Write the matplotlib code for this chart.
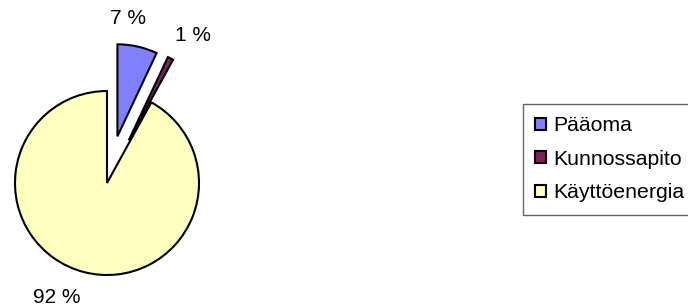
import numpy as np
import matplotlib
matplotlib.use("Agg")
import matplotlib.pyplot as plt
from matplotlib.patches import Patch

categories = ["Pääoma", "Kunnossapito", "Käyttöenergia"]
values = [7, 1, 92]
pct_labels = ["7 %", "1 %", "92 %"]

colors = ["#8080FF", "#802060", "#FFFFC0"]
R = 92
explode_frac = [0.52, 0.52, 0.0]
label_offsets_px = [(-12, 19), (18, 15), (-25, -16)]

plt.rcParams['font.family'] = ['Liberation Sans', 'DejaVu Sans']

W, H = 688, 307
fig = plt.figure(figsize=(W / 100, H / 100), dpi=100)
ax = fig.add_axes([0, 0, 1, 1])

center = (107, H - 183)
wedges, _ = ax.pie(values, colors=colors, explode=[e * R for e in explode_frac],
                   startangle=90, counterclock=False, radius=R, center=center,
                   frame=True, wedgeprops=dict(edgecolor='black', linewidth=1.5))
ax.set_xlim(0, W)
ax.set_ylim(0, H)
ax.set_aspect('equal')
ax.axis('off')

for w, lab, (dx, dy) in zip(wedges, pct_labels, label_offsets_px):
    th = np.deg2rad((w.theta1 + w.theta2) / 2)
    cx, cy = w.center
    anchor = (cx + 1.1 * R * np.cos(th), cy + 1.1 * R * np.sin(th))
    ax.annotate(lab, xy=anchor, xytext=(dx, dy), textcoords='offset pixels',
                ha='center', va='center', fontsize=15, color='black')

handles = [Patch(facecolor=c, edgecolor='black', linewidth=1.5) for c in colors]
leg = fig.legend(handles, categories, loc='upper left',
                 bbox_to_anchor=(523 / W, 1 - 104 / H), fontsize=15.3,
                 frameon=True, fancybox=False, shadow=False,
                 handlelength=0.5, handleheight=0.5, handletextpad=0.35,
                 labelspacing=0.68, borderpad=0.58, borderaxespad=0)
leg.get_frame().set_edgecolor('#404040')
leg.get_frame().set_linewidth(1.0)

fig.savefig("out.png", dpi=100)
